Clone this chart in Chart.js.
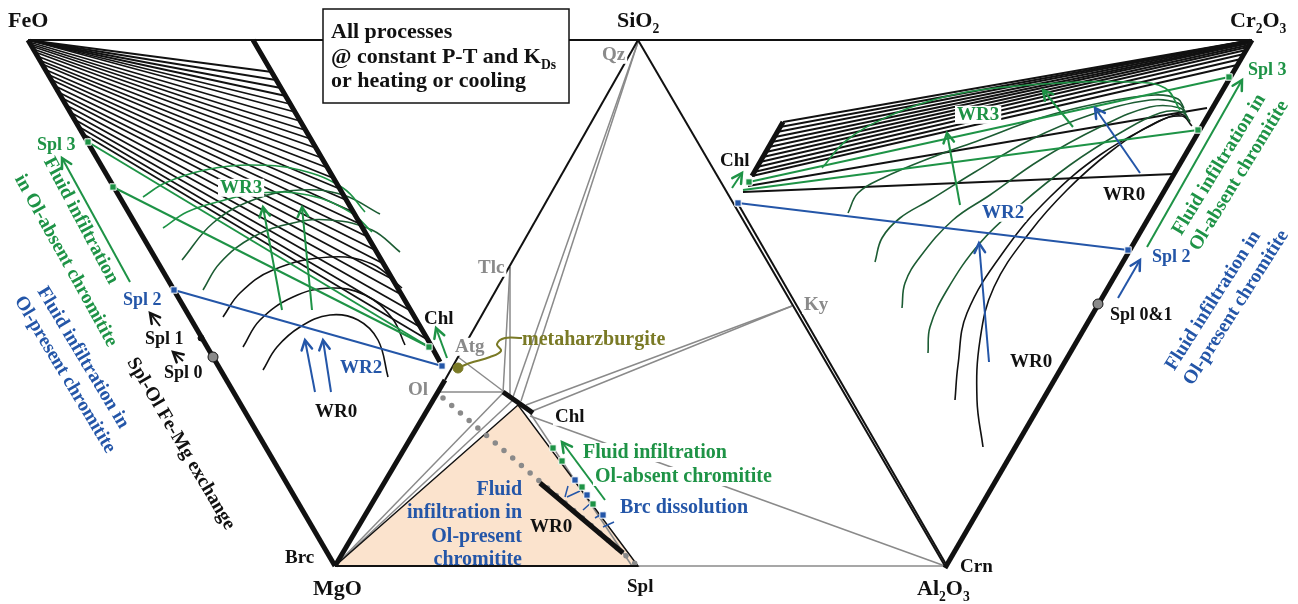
<!DOCTYPE html>
<html>
<head>
<meta charset="utf-8">
<script src="https://cdn.jsdelivr.net/npm/chart.js@4/dist/chart.umd.min.js"></script>
<style>
  html, body { margin: 0; background: #fff; }
  canvas { display: block; }
</style>
</head>
<body>
<canvas id="diagram" width="1298" height="604"></canvas>
<script>
// ── Diagram data (diagram units, y grows downward) ─────────────────────────
const blackThin = [
  [[28, 40], [1252, 40]],
  [[445, 380], [638, 40]],
  [[638, 40], [945, 566]],
  [[737, 202], [947, 566]],
  [[335, 566], [638, 566]]
];
const blackThick = [
  [[28, 40], [335, 566]],
  [[253, 40], [428, 340], [440, 362]],
  [[335, 566], [445, 380]],
  [[1252, 40], [945, 568]],
  [[752, 176], [783, 122]],
  [[503, 392], [533, 413]],
  [[540, 483], [623, 553]]
];
const grayTies = [
  [[638, 42], [513, 397]],
  [[638, 42], [521, 401]],
  [[510, 267], [510, 398]],
  [[510, 267], [503, 393]],
  [[792, 306], [526, 405]],
  [[792, 306], [530, 412]],
  [[437, 392], [502, 392]],
  [[458, 357], [507, 394]],
  [[530, 416], [945, 566]],
  [[335, 566], [503, 393]],
  [[335, 566], [513, 400]],
  [[528, 410], [632, 566]],
  [[638, 566], [945, 566]]
];
const tanTriangle = [[335, 566], [518, 405], [638, 566], [335, 566]];
const olDots = [[443, 398], [638, 566]];

// FeO–Chl tie lines (left end, right end)
const tieLeft = [
  [28, 40, 272, 72], [28, 40, 276, 80], [28, 40, 281, 88], [28, 40, 286, 96],
  [28, 40, 290, 104], [28, 40, 295, 112], [29, 42, 300, 121], [30, 44, 305, 130],
  [31, 46, 311, 139], [33, 49, 316, 148], [35, 52, 322, 158], [37, 56, 328, 168],
  [39, 60, 333, 178], [42, 64, 340, 189], [44, 69, 346, 200], [47, 74, 353, 212],
  [50, 79, 360, 224], [53, 85, 368, 237], [56, 91, 375, 250], [60, 97, 384, 264],
  [64, 104, 392, 279], [68, 111, 402, 295], [72, 118, 411, 311], [76, 125, 420, 327],
  [80, 132, 428, 340]
];
// Chl–Cr2O3 tie lines
const tieRight = [
  [783, 122, 1252, 40], [780, 127, 1252, 40], [777, 132, 1252, 40], [775, 137, 1251, 41],
  [772, 142, 1251, 42], [769, 147, 1250, 43], [766, 152, 1249, 45], [763, 157, 1248, 47],
  [760, 162, 1246, 50], [757, 167, 1244, 54], [754, 172, 1241, 59], [752, 176, 1237, 65],
  [748, 186, 1207, 108], [743, 192, 1174, 174]
];

// whole-rock contours, left triangle
const arcsLeftBlack = [
  [[263, 370], [277, 347], [300, 327], [330, 315], [358, 320], [378, 340], [388, 377]],
  [[243, 347], [260, 320], [293, 297], [330, 288], [365, 295], [392, 318], [405, 345]],
  [[223, 317], [240, 293], [273, 270], [330, 257], [372, 264], [402, 288]]
];
const arcsLeftDark = [
  [[203, 290], [220, 263], [253, 237], [293, 223], [330, 220], [372, 230], [400, 252]],
  [[182, 260], [213, 223], [253, 200], [300, 190], [343, 195], [380, 214]]
];
const arcsLeftGreen = [
  [[163, 228], [187, 212], [217, 202], [260, 193], [308, 195], [350, 212], [372, 232]],
  [[143, 197], [165, 183], [205, 170], [250, 165], [300, 170], [343, 188], [365, 212]]
];
// whole-rock contours, right triangle
const curvesRightBlack = [
  [[983, 447], [977, 400], [980, 340], [994, 287], [1030, 232], [1067, 190], [1110, 152], [1155, 123], [1182, 116], [1192, 126]],
  [[955, 400], [958, 365], [967, 313], [1007, 247], [1050, 197], [1100, 155], [1150, 126], [1180, 114], [1190, 121]]
];
const curvesRightDark = [
  [[928, 353], [930, 327], [947, 290], [980, 243], [1020, 205], [1070, 165], [1120, 133], [1160, 113], [1182, 112], [1190, 122]],
  [[902, 308], [905, 283], [920, 257], [953, 220], [990, 195], [1040, 160], [1100, 127], [1150, 107], [1180, 108], [1188, 118]],
  [[875, 262], [882, 238], [900, 218], [930, 200], [975, 172], [1030, 140], [1090, 115], [1150, 100], [1178, 103], [1186, 113]],
  [[848, 213], [858, 193], [883, 178], [933, 157], [980, 140], [1040, 118], [1100, 103], [1155, 95], [1178, 99], [1184, 108]]
];
const curvesRightGreen = [
  [[822, 168], [847, 140], [887, 117], [933, 100], [980, 90], [1060, 83], [1130, 82], [1165, 88], [1180, 110]]
];

const greenLines = [
  [[88, 142], [429, 347]],
  [[113, 187], [429, 347]],
  [[749, 182], [1229, 77]],
  [[743, 190], [1198, 130]]
];
const blueLines = [
  [[174, 290], [442, 366]],
  [[738, 203], [1128, 250]]
];
const blueTicks = [
  [[565, 497], [568, 486]], [[567, 497], [580, 491]], [[583, 510], [592, 502]],
  [[595, 518], [605, 512]], [[603, 527], [614, 522]]
];
const olivePath = [[522, 338], [505, 338], [497, 344], [501, 351], [490, 357], [470, 363], [460, 367]];

const arrowsBlue = [
  [[315, 392], [305, 340]], [[331, 392], [323, 340]],
  [[989, 362], [979, 243]], [[1140, 173], [1095, 108]], [[1118, 298], [1140, 260]]
];
const arrowsGreen = [
  [[282, 310], [263, 207]], [[312, 310], [302, 207]], [[447, 358], [436, 328]],
  [[130, 282], [62, 158]], [[605, 500], [562, 442]], [[1147, 247], [1242, 80]],
  [[1073, 127], [1043, 90]], [[960, 205], [947, 133]], [[732, 188], [742, 173]]
];
const arrowsBlack = [[[160, 326], [150, 313]], [[183, 361], [173, 352]]];

const squaresGreen = [[88, 142], [113, 187], [429, 347], [749, 182], [1229, 77], [1198, 130],
  [553, 448], [562, 461], [582, 487], [593, 504]];
const squaresBlue = [[174, 290], [442, 366], [738, 203], [1128, 250], [575, 480], [587, 495], [603, 515]];
const circlesGray = [[213, 357], [1098, 304]];
const dotsBlack = [[201, 338]];
const dotsOlive = [[458, 368]];

// ── Colours ────────────────────────────────────────────────────────────────
const INK = {
  k: '#111111', g: '#1e9346', dg: '#1c5c33', b: '#2456a8',
  gr: '#8a8a8a', ol: '#7a7a26', tan: '#fbe3cd'
};
const FONT = "'Liberation Serif', 'Times New Roman', serif";

// text, x, y, colour, size, align, angle(deg), white background
const labels = [
  ['FeO', 8, 27, 'k', 22, 'left'],
  ['SiO_2', 617, 27, 'k', 22, 'left'],
  ['Cr_2O_3', 1230, 27, 'k', 22, 'left'],
  ['MgO', 313, 595, 'k', 22, 'left'],
  ['Al_2O_3', 917, 595, 'k', 22, 'left'],
  ['Spl', 627, 592, 'k', 19, 'left'],
  ['Brc', 285, 563, 'k', 19, 'left'],
  ['Crn', 960, 572, 'k', 19, 'left'],
  ['Qz', 602, 60, 'gr', 19, 'left', 0, true],
  ['Tlc', 478, 273, 'gr', 19, 'left', 0, true],
  ['Atg', 455, 352, 'gr', 19, 'left', 0, true],
  ['Ol', 408, 395, 'gr', 19, 'left', 0, true],
  ['Ky', 804, 310, 'gr', 19, 'left', 0, true],
  ['Chl', 424, 324, 'k', 19, 'left'],
  ['Chl', 720, 166, 'k', 19, 'left'],
  ['Chl', 555, 422, 'k', 19, 'left', 0, true],
  ['metaharzburgite', 522, 345, 'ol', 20, 'left'],
  ['Fluid infiltration', 583, 458, 'g', 20, 'left', 0, true],
  ['Ol-absent chromitite', 595, 482, 'g', 20, 'left', 0, true],
  ['Brc dissolution', 620, 513, 'b', 20, 'left', 0, true],
  ['Fluid', 522, 495, 'b', 20, 'right'],
  ['infiltration in', 522, 518, 'b', 20, 'right'],
  ['Ol-present', 522, 542, 'b', 20, 'right'],
  ['chromitite', 522, 565, 'b', 20, 'right'],
  ['WR0', 530, 532, 'k', 19, 'left'],
  ['WR0', 315, 417, 'k', 19, 'left'],
  ['WR2', 340, 373, 'b', 19, 'left'],
  ['WR3', 220, 193, 'g', 19, 'left', 0, true],
  ['Spl 3', 37, 150, 'g', 18, 'left'],
  ['Spl 2', 123, 305, 'b', 18, 'left'],
  ['Spl 1', 145, 344, 'k', 18, 'left'],
  ['Spl 0', 164, 378, 'k', 18, 'left'],
  ['Spl 3', 1248, 75, 'g', 18, 'left'],
  ['Spl 2', 1152, 262, 'b', 18, 'left'],
  ['Spl 0&1', 1110, 320, 'k', 18, 'left'],
  ['WR0', 1103, 200, 'k', 19, 'left', 0, true],
  ['WR0', 1010, 367, 'k', 19, 'left'],
  ['WR2', 982, 218, 'b', 19, 'left', 0, true],
  ['WR3', 957, 120, 'g', 19, 'left', 0, true],
  ['Spl-Ol Fe-Mg exchange', 182, 443, 'k', 19.5, 'center', 59.5],
  ['Fluid infiltration', 82, 220, 'g', 19.5, 'center', 62],
  ['in Ol-absent chromitite', 67, 260, 'g', 19.5, 'center', 61],
  ['Fluid infiltration in', 84, 357, 'b', 19.5, 'center', 59],
  ['Ol-present chromitite', 66, 374, 'b', 19.5, 'center', 59],
  ['Fluid infiltration in', 1218, 164, 'g', 19.5, 'center', -58.5],
  ['Ol-absent chromitite', 1238, 175, 'g', 19.5, 'center', -58.5],
  ['Fluid infiltration in', 1212, 300, 'b', 19.5, 'center', -57.6],
  ['Ol-present chromitite', 1235, 307, 'b', 19.5, 'center', -57.6]
];
const noteBox = [[323, 9], [569, 103]];
const noteLines = [
  ['All processes', 331, 38],
  ['@ constant P-T and K_{Ds}', 331, 63],
  ['or heating or cooling', 331, 87]
];

// ── Dataset builders ───────────────────────────────────────────────────────
const datasets = [];
function pts(list) { return list.map(p => ({ x: p[0], y: p[1] })); }
function addLines(list, color, width, extra) {
  list.forEach(l => datasets.push(Object.assign({
    data: pts(l), showLine: true, borderColor: color, borderWidth: width,
    pointRadius: 0, fill: false, tension: 0
  }, extra || {})));
}
function addSegments(list, color, width) {
  addLines(list.map(s => [[s[0], s[1]], [s[2], s[3]]]), color, width);
}
function addMarks(list, style, radius, fillColor, strokeColor, strokeWidth) {
  datasets.push({
    data: pts(list), showLine: false, pointStyle: style, pointRadius: radius,
    backgroundColor: fillColor, borderColor: strokeColor, borderWidth: strokeWidth
  });
}

addLines(grayTies, INK.gr, 1.5);
addLines([tanTriangle], INK.k, 1.5);
addLines([olDots], INK.gr, 5.5, { borderDash: [0, 11.5], borderCapStyle: 'round' });
addSegments(tieLeft, INK.k, 1.8);
addSegments(tieRight, INK.k, 1.8);
addLines(arcsLeftBlack, INK.k, 1.6, { tension: 0.4 });
addLines(arcsLeftDark, INK.dg, 1.6, { tension: 0.4 });
addLines(arcsLeftGreen, INK.g, 1.6, { tension: 0.4 });
addLines(curvesRightBlack, INK.k, 1.6, { tension: 0.4 });
addLines(curvesRightDark, INK.dg, 1.6, { tension: 0.4 });
addLines(curvesRightGreen, INK.g, 1.6, { tension: 0.4 });
addLines(blackThin, INK.k, 2);
addLines(blackThick, INK.k, 5);
addLines(greenLines, INK.g, 2);
addLines(blueLines, INK.b, 2);
addLines(blueTicks, INK.b, 1.5);
addLines([olivePath], INK.ol, 2, { tension: 0.4 });
addLines(arrowsBlue, INK.b, 2, { head: true });
addLines(arrowsGreen, INK.g, 2, { head: true });
addLines(arrowsBlack, INK.k, 2, { head: true });
addMarks(squaresGreen, 'rect', 4.5, INK.g, '#fff', 1);
addMarks(squaresBlue, 'rect', 4.5, INK.b, '#fff', 1);
addMarks(circlesGray, 'circle', 5, INK.gr, INK.k, 1);
addMarks(dotsBlack, 'circle', 3, INK.k, INK.k, 1);
addMarks(dotsOlive, 'circle', 5, INK.ol, INK.ol, 1);
// first dataset is painted last in Chart.js, so reverse the order
datasets.forEach((d, i) => { d.order = datasets.length - i; });

// ── Helpers for text ───────────────────────────────────────────────────────
function parseRich(t) {
  const out = []; let buf = ''; let i = 0;
  while (i < t.length) {
    if (t[i] === '_') {
      if (buf) { out.push([buf, false]); buf = ''; }
      if (t[i + 1] === '{') { const j = t.indexOf('}', i); out.push([t.slice(i + 2, j), true]); i = j + 1; }
      else { out.push([t[i + 1], true]); i += 2; }
    } else { buf += t[i]; i++; }
  }
  if (buf) out.push([buf, false]);
  return out;
}
function richWidth(ctx, segs, size) {
  return segs.reduce((w, s) => {
    ctx.font = 'bold ' + (s[1] ? size * 0.62 : size) + 'px ' + FONT;
    return w + ctx.measureText(s[0]).width;
  }, 0);
}
function drawRich(ctx, segs, size, x, y, color) {
  ctx.fillStyle = color;
  segs.forEach(s => {
    const fs = s[1] ? size * 0.62 : size;
    ctx.font = 'bold ' + fs + 'px ' + FONT;
    ctx.fillText(s[0], x, y + (s[1] ? size * 0.25 : 0));
    x += ctx.measureText(s[0]).width;
  });
}

// ── Plugins ────────────────────────────────────────────────────────────────
const backdrop = {
  id: 'backdrop',
  beforeDatasetsDraw(chart) {
    const { ctx, scales: { x, y } } = chart;
    ctx.save();
    ctx.fillStyle = INK.tan;
    ctx.beginPath();
    tanTriangle.forEach((p, i) => {
      const px = x.getPixelForValue(p[0]), py = y.getPixelForValue(p[1]);
      i ? ctx.lineTo(px, py) : ctx.moveTo(px, py);
    });
    ctx.fill();
    ctx.restore();
  }
};

const heads = {
  id: 'heads',
  afterDatasetsDraw(chart) {
    const ctx = chart.ctx;
    chart.data.datasets.forEach((d, i) => {
      if (!d.head) return;
      const el = chart.getDatasetMeta(i).data;
      const a = el[el.length - 2], b = el[el.length - 1];
      const ang = Math.atan2(b.y - a.y, b.x - a.x);
      ctx.save();
      ctx.strokeStyle = d.borderColor;
      ctx.lineWidth = 2.5;
      ctx.lineCap = 'round';
      ctx.beginPath();
      ctx.moveTo(b.x - 11 * Math.cos(ang - 0.5), b.y - 11 * Math.sin(ang - 0.5));
      ctx.lineTo(b.x, b.y);
      ctx.lineTo(b.x - 11 * Math.cos(ang + 0.5), b.y - 11 * Math.sin(ang + 0.5));
      ctx.stroke();
      ctx.restore();
    });
  }
};

const texts = {
  id: 'texts',
  afterDatasetsDraw(chart) {
    const { ctx, scales: { x, y } } = chart;
    ctx.save();
    // note box
    const bx0 = x.getPixelForValue(noteBox[0][0]), by0 = y.getPixelForValue(noteBox[0][1]);
    const bx1 = x.getPixelForValue(noteBox[1][0]), by1 = y.getPixelForValue(noteBox[1][1]);
    ctx.fillStyle = '#fff';
    ctx.fillRect(bx0, by0, bx1 - bx0, by1 - by0);
    ctx.strokeStyle = INK.k; ctx.lineWidth = 1.5;
    ctx.strokeRect(bx0, by0, bx1 - bx0, by1 - by0);
    ctx.textBaseline = 'alphabetic';
    noteLines.forEach(n => drawRich(ctx, parseRich(n[0]), 22, x.getPixelForValue(n[1]), y.getPixelForValue(n[2]), INK.k));

    labels.forEach(l => {
      const [t, lx, ly, col, size, align, angle, bg] = l;
      const segs = parseRich(t);
      const w = richWidth(ctx, segs, size);
      ctx.save();
      ctx.translate(x.getPixelForValue(lx), y.getPixelForValue(ly));
      if (angle) ctx.rotate(angle * Math.PI / 180);
      let ox = 0, oy = 0;
      if (align === 'right') ox = -w;
      if (align === 'center') { ox = -w / 2; oy = size * 0.33; }
      if (bg) {
        ctx.fillStyle = '#fff';
        ctx.fillRect(ox - 2, oy - size * 0.75, w + 4, size * 0.95);
      }
      drawRich(ctx, segs, size, ox, oy, INK[col]);
      ctx.restore();
    });
    ctx.restore();
  }
};

new Chart(document.getElementById('diagram'), {
  type: 'scatter',
  data: { datasets },
  options: {
    responsive: false,
    animation: false,
    layout: { padding: 0, autoPadding: false },
    plugins: { legend: { display: false }, tooltip: { enabled: false } },
    scales: {
      x: { type: 'linear', min: 0, max: 1298, display: false },
      y: { type: 'linear', min: 0, max: 604, reverse: true, display: false }
    }
  },
  plugins: [backdrop, heads, texts]
});
</script>
</body>
</html>
